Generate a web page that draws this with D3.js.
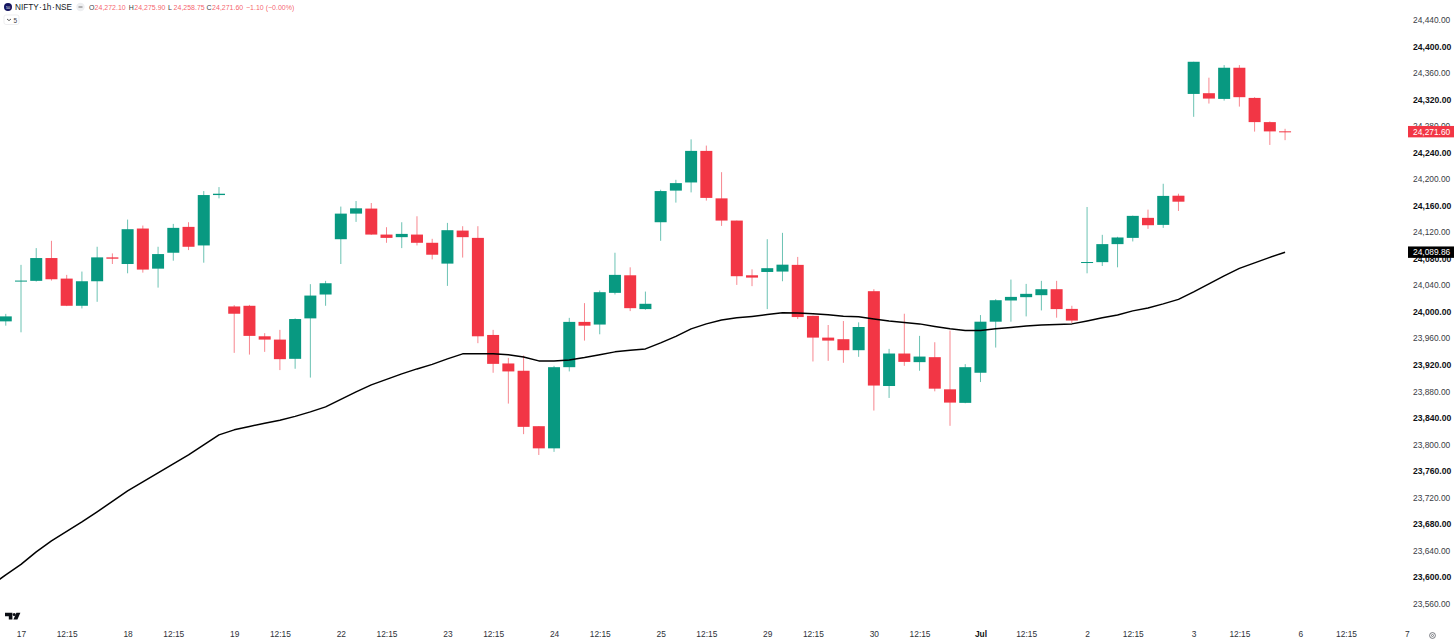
<!DOCTYPE html>
<html>
<head>
<meta charset="utf-8">
<title>NIFTY 1h</title>
<script src="https://cdn.jsdelivr.net/npm/d3@7/dist/d3.min.js"></script>
<style>
	html, body { margin: 0; padding: 0; background: #fff; }
	svg { display: block; }
	text { font-family: "Liberation Sans", Arial, sans-serif; }
	.axis .domain, .axis line { display: none; }
	.y-axis text { font-size: 8.4px; fill: #3a3d45; }
	.y-axis text.major { font-weight: bold; fill: #0f1115; font-size: 8.6px; }
	.x-axis text { font-size: 8.4px; fill: #2e3138; }
	.x-axis text.major { font-weight: bold; fill: #0f1115; }
</style>
</head>
<body>
<div id="chart"></div>
<script>

// Candles, first one sits one bar left of the "17" label
var opens = [23985.5,
	24046, 24046.6, 24081, 24050, 24009, 24046, 24082,
	24072, 24125.5, 24065, 24089, 24128, 24100, 24176,
	24008, 24009, 23963, 23958, 23929, 23990, 24026,
	24109.4, 24148, 24155.6, 24116.4, 24112.5, 24116.4, 24104,
	24072.6, 24122.4, 24111.4, 23965, 23922, 23911, 23827.4,
	23794, 23916.4, 23984.7, 23980.7, 24028.5, 24055, 24004,
	24135, 24182.7, 24195, 24242.6, 24171, 24137.5, 24055,
	24060, 24060.6, 24070.7, 23993.8, 23961, 23958.6, 23942,
	24031, 23888, 23937, 23924, 23931.5, 23883, 23862.6,
	23908, 23985, 24017, 24022, 24025, 24034, 24004.3,
	24074.5, 24074.8, 24102, 24111.4, 24141.6, 24131, 24175,
	24328.5, 24329.6, 24321, 24368, 24322.5, 24286, 24272.1];

var highs = [23996.8,
	24070.7, 24096, 24107, 24055.6, 24060.6, 24098, 24088,
	24139, 24130, 24098, 24132.5, 24135, 24182, 24188,
	24010, 24010.3, 23967.7, 23972.7, 23990, 24041.6, 24046.6,
	24158.6, 24167, 24164, 24127.5, 24135, 24144, 24110,
	24134, 24129, 24129, 23972.7, 23930.4, 23934, 23827.4,
	23918.4, 23990.8, 24013, 24032, 24089, 24067, 24030.4,
	24184, 24199, 24260, 24250.6, 24210.5, 24137.5, 24064,
	24109.4, 24119, 24082.7, 23994, 23980, 23986, 23984,
	24034, 23944, 23997, 23963.6, 23954, 23971.6, 23921,
	23995, 24019, 24048.5, 24042, 24046.6, 24046.6, 24009,
	24158, 24116, 24113, 24145, 24154, 24193, 24178,
	24377, 24353, 24372, 24372, 24323.6, 24287, 24275.9];

var lows = [23979,
	23969, 24045.5, 24047, 24008.5, 24005, 24015, 24072,
	24058, 24059, 24036.4, 24077, 24093, 24074, 24171,
	23938, 23935.4, 23939.5, 23912, 23914, 23900.7, 24009,
	24072, 24135.5, 24116, 24104, 24096, 24100, 24079,
	24039, 24081.7, 23952.6, 23908, 23861.5, 23815.4, 23784,
	23788.7, 23910, 23956.5, 23966, 24026, 24001, 24003,
	24107, 24164.6, 24180, 24167.6, 24129.5, 24040.5, 24038.6,
	24004, 24046, 23989, 23925, 23926, 23923, 23932,
	23851, 23870, 23918.4, 23911, 23880, 23828, 23862,
	23894, 23946, 23985, 23993, 24002, 23991, 23983,
	24058, 24069, 24067, 24106, 24125, 24126.5, 24152,
	24294, 24314, 24318.4, 24309.4, 24271.7, 24251.6, 24258.75];

var closes = [23993,
	24047, 24081, 24049, 24009, 24046, 24082, 24080,
	24124.5, 24063.6, 24087, 24126.5, 24098, 24176, 24178,
	23997, 23963.6, 23958, 23928.5, 23989, 24024.4, 24043,
	24148, 24156, 24116.4, 24111.4, 24117.4, 24104, 24086,
	24123, 24112.5, 23963, 23921.4, 23910, 23826.4, 23794,
	23916.4, 23984.7, 23979, 24029.5, 24055.6, 24005.4, 24012,
	24182, 24194, 24242.6, 24171.7, 24137.5, 24053.6, 24051.5,
	24065.7, 24071, 23992, 23961, 23956.5, 23942, 23977,
	23888.7, 23937, 23924.4, 23932.4, 23884, 23863, 23916.4,
	23985, 24017.4, 24022.4, 24027, 24034, 24004, 23986.7,
	24075, 24102, 24112, 24144.6, 24130.5, 24174.7, 24166,
	24377, 24321.5, 24368, 24323.6, 24286, 24272, 24271.6];

// Moving average, one value per bar, starts two bars left of "17" (runs off the edge)
var maValues = [23586.6, 23603.2,
	23619, 23637.9, 23654.5, 23668.8, 23683.1, 23698.2, 23714,
	23729.9, 23743.4, 23757, 23770.6, 23784.2, 23799.2, 23814.3,
	23821.9, 23827.1, 23831.7, 23836.5, 23842.2, 23849, 23856.5,
	23867.9, 23879.2, 23889.7, 23898, 23906.3, 23913.8, 23920.6,
	23928.9, 23936.5, 23936.8, 23936.5, 23935.3, 23931.9, 23925.9,
	23925.9, 23927.4, 23930.9, 23935, 23939.5, 23942, 23944,
	23953.1, 23962.9, 23974.2, 23981.7, 23987.7, 23990.8, 23993,
	23995.7, 23998.6, 23998.3, 23996.8, 23995.3, 23993.3, 23992.6,
	23989.2, 23986.2, 23983.8, 23981.7, 23977.9, 23974.2, 23971.6,
	23971.9, 23974.5, 23976.4, 23978.4, 23980.2, 23980.9, 23981.7,
	23986.2, 23990.8, 23995, 24001.3, 24005.8, 24011.9, 24018.7,
	24030, 24042, 24054.1, 24065.4, 24073.7, 24082, 24089.86];

var dayLabels = ["17", "18", "19", "22", "23", "24", "25", "29", "30", "Jul", "2", "3", "6", "7"];
var barsPerDay = 7;
var priceTicks = d3.range(23560, 24441, 40);

var headerValues = [["O", "24,272.10"], ["H", "24,275.90"], ["L", "24,258.75"], ["C", "24,271.60"]];
var headerChange = "\u22121.10 (\u22120.00%)";
var lastPrice = 24271.60, lastMa = 24089.86;

var upColor = "#089981", downColor = "#F23645";

var width = 1456, height = 643;

var svg = d3.select("#chart").append("svg")
	.attr("width", width)
	.attr("height", height);

// Scales, bar index 0 is the "17" label
var x = d3.scaleLinear().domain([0, 91]).range([21, 1406.9]);
var y = d3.scaleLinear().domain([23560, 24440]).range([603.5, 20]);

svg.append("defs").append("clipPath")
	.attr("id", "clip")
	.append("rect")
	.attr("width", 1405)
	.attr("height", height);

var plot = svg.append("g").attr("clip-path", "url(#clip)");

var bars = opens.map(function (d, i) {
	return { idx: i - 1, open: d, high: highs[i], low: lows[i], close: closes[i] };
});

function barColor(d) { return d.close >= d.open ? upColor : downColor; }

// Wicks
plot.selectAll(".wick")
	.data(bars)
	.enter()
	.append("line")
	.attr("class", "wick")
	.attr("x1", function (d) { return x(d.idx); })
	.attr("x2", function (d) { return x(d.idx); })
	.attr("y1", function (d) { return y(d.high); })
	.attr("y2", function (d) { return y(d.low); })
	.attr("stroke", barColor)
	.attr("stroke-opacity", 0.6)
	.attr("stroke-width", 1);

// Bodies
plot.selectAll(".body")
	.data(bars)
	.enter()
	.append("rect")
	.attr("class", "body")
	.attr("x", function (d) { return x(d.idx) - 6; })
	.attr("width", 12)
	.attr("y", function (d) { return y(Math.max(d.open, d.close)); })
	.attr("height", function (d) {
		return Math.max(1, Math.abs(y(d.open) - y(d.close)));
	})
	.attr("fill", barColor);

// Moving average
var maLine = d3.line()
	.x(function (d, i) { return x(i - 2); })
	.y(function (d) { return y(d); });

plot.append("path")
	.datum(maValues)
	.attr("fill", "none")
	.attr("stroke", "#000")
	.attr("stroke-width", 1.5)
	.attr("stroke-linejoin", "round")
	.attr("d", maLine);

// Price axis
var yAxis = d3.axisRight(y)
	.tickValues(priceTicks)
	.tickSize(0)
	.tickPadding(0)
	.tickFormat(d3.format(",.2f"));

svg.append("g")
	.attr("class", "y-axis axis")
	.attr("transform", "translate(1413,0)")
	.call(yAxis)
	.selectAll("text")
	.classed("major", function (d) { return (24400 - d) % 80 === 0; });

// Time axis
var timeTicks = [], timeLabels = {};
dayLabels.forEach(function (d, i) {
	timeTicks.push(i * barsPerDay);
	timeLabels[i * barsPerDay] = d;
	if (i < dayLabels.length - 1) {
		timeTicks.push(i * barsPerDay + 3);
		timeLabels[i * barsPerDay + 3] = "12:15";
	}
});

var xAxis = d3.axisBottom(x)
	.tickValues(timeTicks)
	.tickSize(0)
	.tickPadding(0)
	.tickFormat(function (d) { return timeLabels[d]; });

svg.append("g")
	.attr("class", "x-axis axis")
	.attr("transform", "translate(0,631.5)")
	.call(xAxis)
	.selectAll("text")
	.classed("major", function (d) { return timeLabels[d] === "Jul"; });

// Last price and MA tags
function priceTag(value, color) {
	svg.append("rect")
		.attr("x", 1408)
		.attr("y", y(value) - 5.7)
		.attr("width", 46)
		.attr("height", 11.4)
		.attr("fill", color);
	svg.append("text")
		.attr("x", 1413)
		.attr("y", y(value))
		.attr("dy", ".35em")
		.attr("font-size", 8.4)
		.attr("fill", "#fff")
		.text(d3.format(",.2f")(value));
}
priceTag(lastPrice, "#F23645");
priceTag(lastMa, "#000");

// Header
var header = svg.append("g");

header.append("circle").attr("cx", 8).attr("cy", 7).attr("r", 4).attr("fill", "#14145e");
header.append("text").attr("x", 8).attr("y", 8.5).attr("text-anchor", "middle")
	.attr("font-size", 3.6).attr("fill", "#fff").text("50");
header.append("text").attr("x", 15).attr("y", 10)
	.attr("font-size", 8.2).attr("word-spacing", -1.75)
	.attr("fill", "#131722").text("NIFTY \u00b7 1h \u00b7 NSE");

header.append("circle").attr("cx", 80.5).attr("cy", 7).attr("r", 4.2).attr("fill", "#eeeff1");
header.append("line").attr("x1", 78.5).attr("x2", 82.5).attr("y1", 7).attr("y2", 7)
	.attr("stroke", "#666").attr("stroke-width", 0.9);

var headerX = [89, 128.7, 168, 206.5];
headerValues.forEach(function (d, i) {
	header.append("text").attr("x", headerX[i]).attr("y", 9.8)
		.attr("font-size", 7).attr("fill", "#3a3d45").text(d[0]);
	header.append("text").attr("x", headerX[i] + 5.6).attr("y", 9.8)
		.attr("font-size", 7).attr("fill", "#F23645").attr("fill-opacity", 0.8).text(d[1]);
});
header.append("text").attr("x", 246).attr("y", 9.8)
	.attr("font-size", 7).attr("fill", "#F23645").attr("fill-opacity", 0.8).text(headerChange);

// Collapsed indicators button
header.append("rect").attr("x", 4).attr("y", 15).attr("width", 15).attr("height", 9.5).attr("rx", 2)
	.attr("fill", "#fff").attr("stroke", "#e6e7ea").attr("stroke-width", 0.7);
header.append("path").attr("d", "M7 19l2 1.6 2-1.6").attr("fill", "none")
	.attr("stroke", "#333").attr("stroke-width", 0.8);
header.append("text").attr("x", 13.5).attr("y", 22.5)
	.attr("font-size", 6.5).attr("fill", "#3a3d45").text("5");

// Logo
svg.append("path")
	.attr("d", "M5 612.8h7.4v6.6h-3.6v-3.2H5z M16.4 612.8h4l-3 6.6h-4z")
	.attr("fill", "#0b0e14");
svg.append("circle").attr("cx", 14.2).attr("cy", 614.4).attr("r", 1.5).attr("fill", "#0b0e14");

// Settings gear
svg.append("circle").attr("cx", 1432.5).attr("cy", 635.5).attr("r", 2.9)
	.attr("fill", "none").attr("stroke", "#55585f").attr("stroke-width", 0.8);
svg.append("circle").attr("cx", 1432.5).attr("cy", 635.5).attr("r", 1)
	.attr("fill", "none").attr("stroke", "#55585f").attr("stroke-width", 0.7);

</script>
</body>
</html>
